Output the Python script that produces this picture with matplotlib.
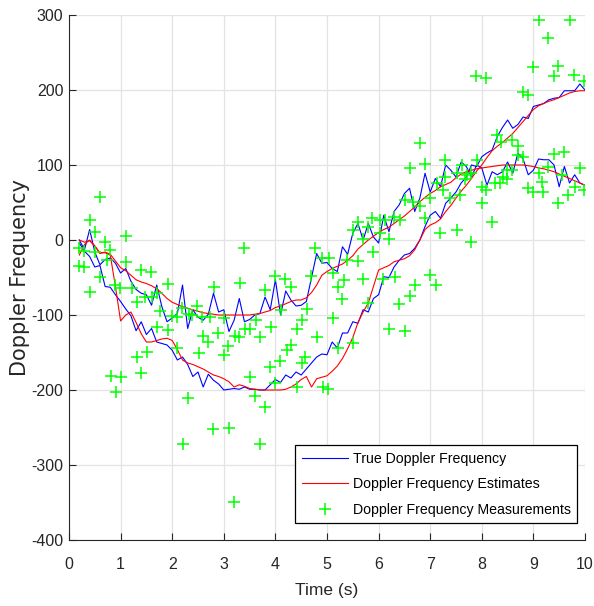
import numpy as np
import matplotlib
matplotlib.use("Agg")
import matplotlib.pyplot as plt

plt.rcParams['axes.unicode_minus'] = False
plt.rcParams['font.family'] = ['Liberation Sans', 'DejaVu Sans']

# time grid (s)
time = np.round(np.arange(0.2, 10.001, 0.1), 1)

true_shallow = [0, -13, 14, -16, -33, -26, -24, -31, -44, -38,
                -55, -66, -71, -73, -87, -60, -89, -109, -104, -98,
                -60, -118, -93, -103, -107, -99, -71, -96, -93, -122,
                -107, -78, -109, -106, -100, -98, -76, -93, -53, -100,
                -68, -80, -88, -87, -82, -50, -18, -31, -30, -38,
                -42, -9, -19, 9, 22, 0, 22, 4, -4, 33,
                11, 38, 47, 62, 69, 38, 56, 89, 64, 82,
                71, 100, 93, 84, 104, 98, 84, 100, 96, 73,
                91, 87, 91, 104, 89, 116, 108, 87, 93, 108,
                107, 107, 100, 71, 98, 76, 87, 76, 73]

true_steep = [-4, -15, -22, -36, -34, -62, -63, -73, -82, -92,
              -101, -121, -109, -126, -118, -136, -138, -140, -147, -160,
              -156, -166, -182, -176, -196, -179, -187, -192, -200, -199,
              -198, -199, -196, -199, -199, -200, -200, -193, -186, -190,
              -180, -184, -176, -180, -172, -164, -156, -152, -153, -136,
              -144, -124, -124, -109, -111, -93, -96, -78, -73, -49,
              -50, -36, -27, -20, -18, -11, 0, 18, 33, 38,
              29, 49, 56, 64, 76, 84, 100, 98, 111, 116,
              120, 138, 150, 160, 149, 154, 164, 162, 178, 180,
              182, 187, 189, 190, 199, 199, 199, 208, 200]

est_shallow = [0, -3, -1, -8, -18, -16, -19, -28, -37, -41,
               -47, -53, -56, -58, -61, -65, -71, -78, -83, -86,
               -89, -91, -93, -95, -97, -98, -99, -100, -100, -100,
               -100, -100, -100, -100, -99, -98, -96, -94, -90, -88,
               -85, -82, -80, -80, -77, -70, -60, -47, -42, -38,
               -35, -32, -27, -21, -12, -6, 0, 5, 10, 14,
               17, 22, 27, 32, 38, 44, 51, 57, 62, 66,
               71, 74, 77, 83, 88, 91, 93, 95, 96, 97,
               98, 99, 100, 100, 100, 100, 100, 99, 98, 96,
               95, 93, 91, 88, 85, 82, 79, 76, 73]

est_steep = [-20, -6, 0, -8, -17, -17, -20, -62, -108, -100,
             -96, -110, -125, -136, -136, -134, -132, -131, -134, -146,
             -160, -164, -166, -169, -172, -176, -180, -182, -185, -189,
             -196, -193, -195, -198, -199, -200, -200, -200, -200, -200,
             -199, -196, -192, -186, -182, -196, -185, -183, -181, -175,
             -168, -158, -145, -130, -110, -96, -84, -62, -40, -37,
             -34, -29, -27, -25, -21, -13, 0, 14, 20, 23,
             28, 38, 46, 56, 65, 73, 82, 92, 100, 110,
             119, 125, 130, 136, 142, 150, 158, 166, 174, 179,
             182, 185, 187, 190, 193, 196, 198, 199, 199]

meas_t = [0.6, 0.4, 0.5, 1.1, 0.2, 0.3, 0.5, 0.7, 0.8, 0.74, 1.11, 0.19, 0.3, 0.61, 1.4, 1.59,
          0.41, 0.9, 0.99, 1.22, 1.92, 1.32, 1.48, 1.61, 1.7, 1.77, 1.99, 2.09, 2.19, 2.32,
          1.7, 1.92, 2.09, 1.51, 1.32, 1.4, 0.82, 1.01, 0.91, 2.31, 2.2,
          3.4, 4.76, 2.81, 3.31, 3.99, 4.19, 4.3, 3.8, 4.69, 2.49, 2.39, 2.57, 2.73, 3.01,
          3.62, 4.11, 4.61, 4.51, 3.41, 3.51, 3.91, 4.41, 2.89, 2.6, 2.7, 3.22, 3.3, 3.7,
          3.09, 2.51, 3.01, 4.3, 4.22, 4.09, 3.9, 4.57, 4.51, 3.51, 3.99, 4.41, 3.6, 3.8,
          2.8, 3.1, 3.7, 3.2,
          6.8, 6.6, 6.9, 7.13, 7.25, 7.0, 6.8, 6.51, 6.67, 6.41, 6.29, 6.9, 7.19, 5.88,
          6.03, 6.12, 5.8, 5.61, 5.5, 5.7, 6.03, 6.21, 5.9, 4.9, 5.03, 5.38, 5.61, 5.11,
          5.7, 5.32, 5.22, 5.3, 6.09, 6.32, 7.0, 7.11, 6.71, 6.6, 6.4, 5.8, 5.11, 4.8,
          5.22, 5.5, 6.21, 6.51, 4.93, 5.01,
          9.1, 9.7, 9.29, 7.89, 8.09, 9.0, 9.48, 9.39, 9.79, 9.98, 8.79, 8.9, 8.3, 8.38,
          8.58, 8.71, 8.71, 8.79, 9.39, 9.59, 7.29, 7.61, 7.9, 9.29, 9.9, 7.51, 7.71, 7.8,
          8.48, 8.58, 9.1, 7.29, 7.67, 8.42, 8.48, 9.16, 9.55, 8.35, 8.26, 8.0, 8.09, 8.9,
          9.0, 9.19, 9.81, 9.98, 7.38, 7.58, 8.0, 9.68, 9.48, 8.19, 7.51, 7.8]

meas_v = [58, 27, 11, 5, -11, -14, -16, -2, -13, -27, -29, -35, -36, -49, -40, -42,
          -69, -60, -64, -64, -58, -82, -76, -76, -71, -94, -101, -102, -91, -98,
          -116, -120, -144, -149, -156, -177, -181, -183, -202, -211, -272,
          -11, -10, -62, -57, -48, -52, -62, -67, -48, -88, -100, -103, -103, -104,
          -107, -93, -92, -106, -118, -119, -116, -118, -124, -128, -136, -128, -129, -129,
          -141, -150, -153, -140, -146, -161, -169, -156, -164, -182, -191, -196, -208, -222,
          -252, -250, -272, -349,
          129, 96, 102, 76, 67, 56, 45, 53, 51, 27, 31, 29, 9, 30,
          27, 27, 18, 24, 14, 2, 9, 2, -16, -24, -24, -26, -28, -44,
          -52, -53, -62, -78, -52, -49, -47, -60, -60, -75, -85, -84, -104, -129,
          -144, -137, -118, -121, -196, -198,
          294, 293, 270, 219, 216, 231, 232, 219, 220, 212, 198, 193, 140, 131,
          133, 125, 113, 111, 115, 118, 107, 100, 107, 97, 96, 89, 87, 89,
          93, 93, 89, 84, 82, 84, 81, 78, 87, 76, 76, 71, 67, 70,
          64, 64, 71, 67, 56, 60, 50, 60, 49, 24, 13, -2]

x_ticks = [0, 1, 2, 3, 4, 5, 6, 7, 8, 9, 10]
y_ticks = [-400, -300, -200, -100, 0, 100, 200, 300]

fig = plt.figure(figsize=(5.94, 6.06), dpi=100)
ax = fig.add_axes([69/594, 66/606, 516/594, 525/606])

ax.plot(time, true_shallow, color='#0000ff', lw=0.8, label='True Doppler Frequency', zorder=3)
ax.plot(time, true_steep, color='#0000ff', lw=0.8, zorder=3)
ax.plot(time, est_shallow, color='#ff0000', lw=0.8, label='Doppler Frequency Estimates', zorder=3)
ax.plot(time, est_steep, color='#ff0000', lw=0.8, zorder=3)
ax.plot(meas_t, meas_v, linestyle='none', marker='+', color='#00ff00', markersize=9,
        markeredgewidth=1.1, label='Doppler Frequency Measurements', zorder=4)

ax.set_xlim(0, 10)
ax.set_ylim(-400, 300)
ax.set_xticks(x_ticks)
ax.set_yticks(y_ticks)
ax.grid(True, color='#e3e3e3', lw=0.9)
ax.set_axisbelow(True)
for s in ['top', 'right']:
    ax.spines[s].set_visible(False)
for s in ['left', 'bottom']:
    ax.spines[s].set_color('#262626')
    ax.spines[s].set_linewidth(0.8)
ax.tick_params(direction='in', length=5, width=0.8, colors='#262626', labelsize=11.5)
ax.tick_params(axis='x', pad=12.5)
ax.tick_params(axis='y', pad=4)

ax.set_xlabel('Time (s)', fontsize=12.5, color='#262626')
ax.xaxis.set_label_coords(0.5, (540 - 583) / 525)
ax.set_ylabel('Doppler Frequency', fontsize=15, color='#262626',
              family=['DejaVu Sans'])
ax.yaxis.set_label_coords((30 - 69) / 516, 0.5)

leg = ax.legend(loc='lower right', bbox_to_anchor=(0.9845, 0.0324), borderaxespad=0,
                prop={'size': 10.2}, fancybox=False, edgecolor='black', framealpha=1,
                handlelength=3.3, handletextpad=0.3, labelspacing=0.81, borderpad=0.45)
leg.get_frame().set_linewidth(0.9)

fig.savefig('out.png', dpi=100)
